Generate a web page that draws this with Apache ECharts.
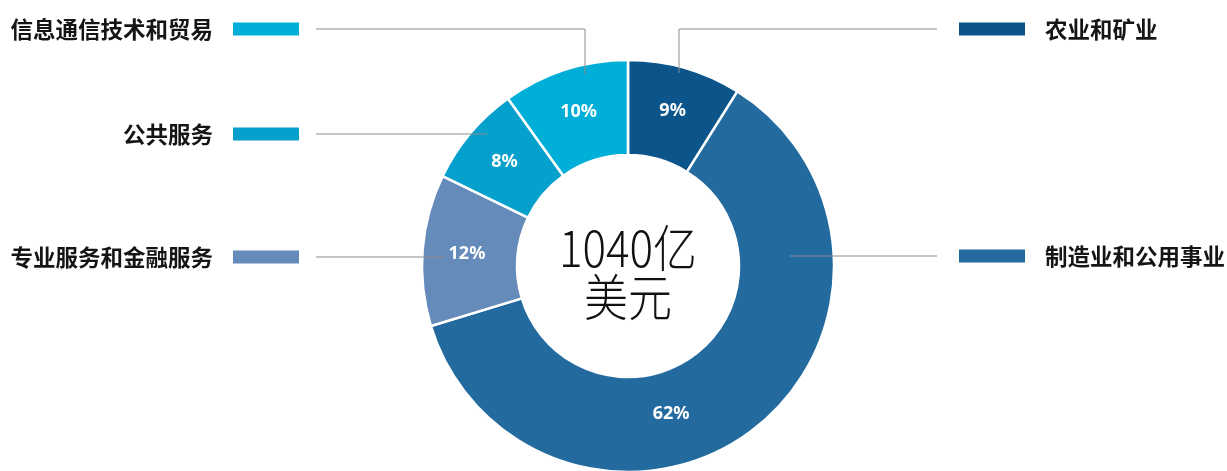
<!DOCTYPE html>
<html>
<head>
<meta charset="utf-8">
<script src="https://cdn.jsdelivr.net/npm/echarts@6/dist/echarts.min.js"></script>
<style>
  html, body { margin: 0; padding: 0; background: #fff; }
  #chart { width: 1227px; height: 471px; }
</style>
</head>
<body>
<div id="chart"></div>
<script>
const sectors = ['农业和矿业', '制造业和公用事业', '专业服务和金融服务', '公共服务', '信息通信技术和贸易']
const shares = [9, 62, 12, 8, 10]
const colors = ['#0b558b', '#236a9f', '#658bbb', '#05a0cb', '#00afd8']
const totalText = '1040亿\n美元'

// ring geometry
const cx = 628, cy = 266, r0 = 111, r1 = 206

// legend placement: which side, the row of each legend entry, leader tip (relative to center)
const side = ['right', 'right', 'left', 'left', 'left']
const rowY = [29, 256, 257, 134, 29]
const tips = [[51, -193], [162, -10], [-183, -9], [-141, -132], [-43, -192]]

const chart = echarts.init(document.getElementById('chart'))

const rich = {
  t: { fontSize: 22.5, fontWeight: 'bold', color: '#151515', fontFamily: 'Noto Sans CJK SC' },
  g: { width: 20 }
}
colors.forEach((c, i) => {
  rich['s' + i] = { width: 66, height: 13, backgroundColor: c }
})

const data = sectors.map((name, i) => ({ name, value: shares[i], itemStyle: { color: colors[i] } }))

chart.setOption({
  animation: false,
  backgroundColor: '#fff',
  graphic: [{
    type: 'text',
    x: cx,
    y: cy + 6,
    scaleX: 0.88,
    z: 10,
    style: {
      text: totalText,
      align: 'center',
      verticalAlign: 'middle',
      fontSize: 50,
      lineHeight: 49,
      fontWeight: 300,
      fontFamily: 'Noto Sans CJK SC',
      fill: '#111'
    }
  }],
  series: [
    {
      type: 'pie',
      center: [cx, cy],
      radius: [r0, r1],
      startAngle: 90,
      clockwise: true,
      silent: true,
      avoidLabelOverlap: false,
      itemStyle: { borderColor: '#fff', borderWidth: 2.5 },
      label: {
        show: true,
        position: 'inside',
        formatter: '{c}%',
        color: '#fff',
        fontSize: 18,
        fontWeight: 'bold',
        fontFamily: 'Noto Sans'
      },
      labelLine: { show: false },
      labelLayout: (p) => (p.dataIndex === 1 ? { dx: -55, dy: 20 } : {}),
      data
    },
    {
      type: 'pie',
      center: [cx, cy],
      radius: [r0, r1],
      startAngle: 90,
      clockwise: true,
      silent: true,
      z: 5,
      avoidLabelOverlap: false,
      itemStyle: { color: 'rgba(0,0,0,0)', borderWidth: 0 },
      label: {
        show: true,
        position: 'outside',
        formatter: (p) => side[p.dataIndex] === 'left'
          ? '{t|' + p.name + '}{g|}{s' + p.dataIndex + '|}'
          : '{s' + p.dataIndex + '|}{g|}{t|' + p.name + '}',
        rich
      },
      labelLine: { show: true, lineStyle: { color: '#8c8c8c', width: 1 } },
      labelLayout: (p) => {
        const i = p.dataIndex
        const left = side[i] === 'left'
        const tip = [cx + tips[i][0], cy + tips[i][1]]
        const end = left ? 316 : 937
        return {
          x: left ? 299 : 959,
          y: rowY[i],
          align: left ? 'right' : 'left',
          verticalAlign: 'middle',
          labelLinePoints: [tip, [tip[0], rowY[i]], [end, rowY[i]]]
        }
      },
      data: sectors.map((name, i) => ({ name, value: shares[i] }))
    }
  ]
})
</script>
</body>
</html>
